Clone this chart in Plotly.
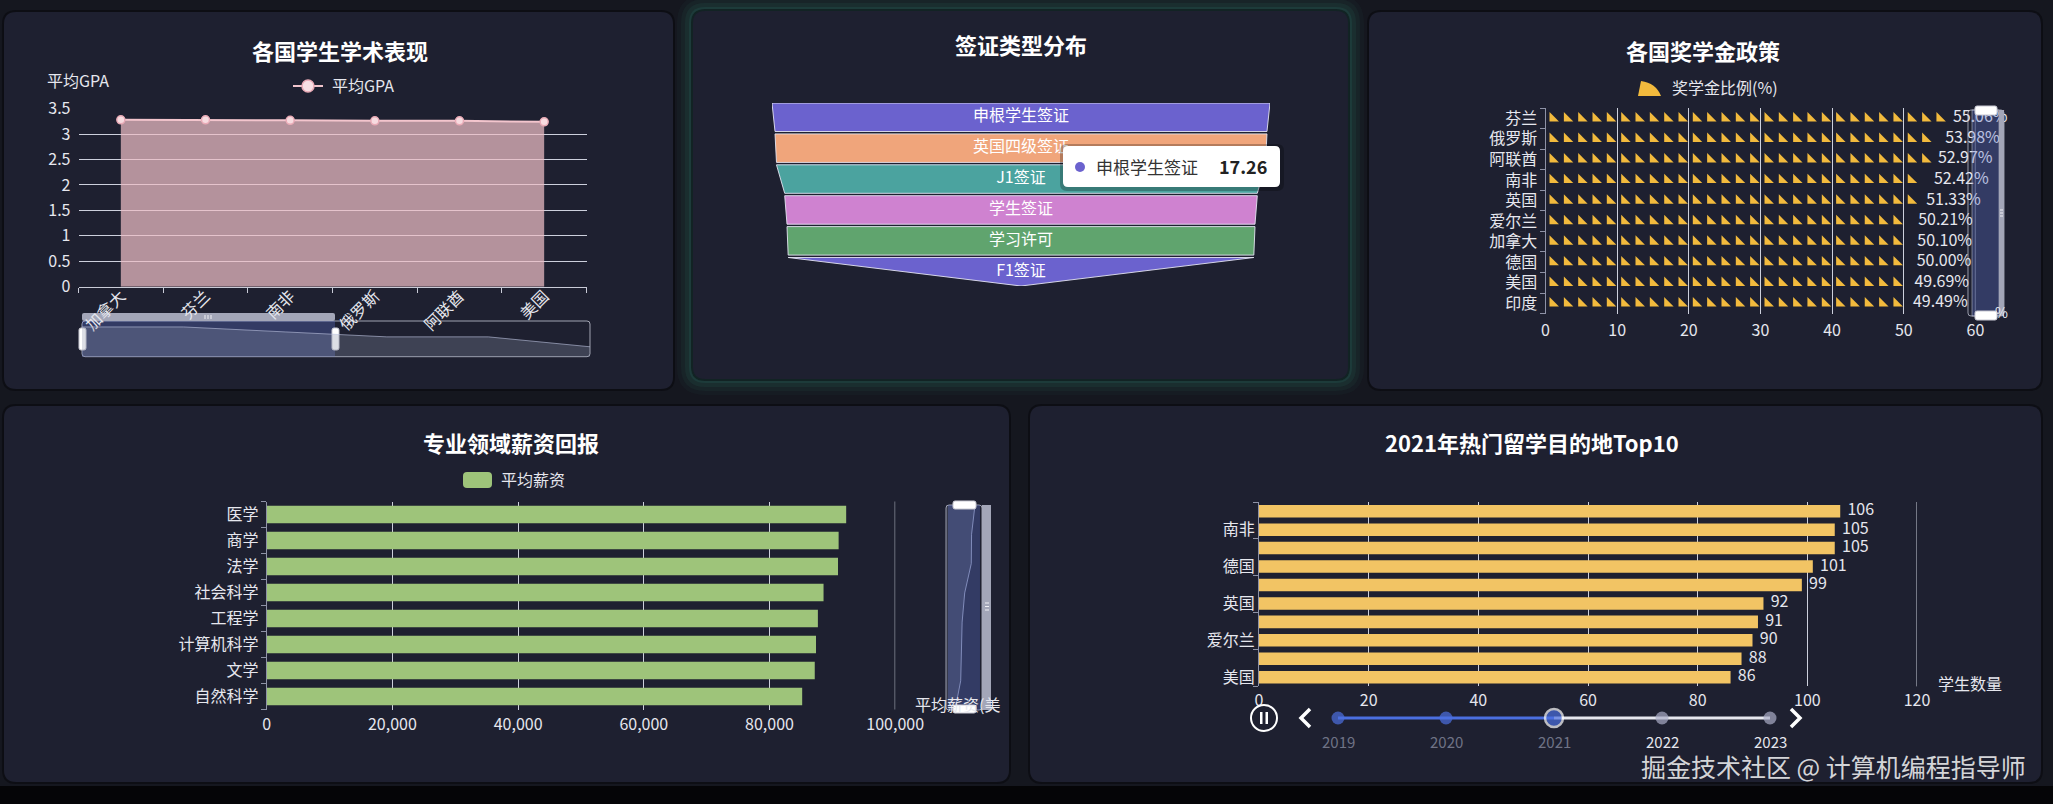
import plotly.graph_objects as go

W, H = 2053, 804
FONT = "Noto Sans CJK SC, Noto Sans, sans-serif"
TXT = "#e6e7ee"
GRID = "#cdd0dc"
AXL = "#8e92a6"

# ---------------- data ----------------
gpa_countries = ["加拿大", "芬兰", "南非", "俄罗斯", "阿联酋", "美国"]
gpa_values = [3.28, 3.28, 3.27, 3.26, 3.26, 3.24]

visa_types = ["申根学生签证", "英国四级签证", "J1签证", "学生签证", "学习许可", "F1签证"]
visa_values = [17.26, 17.05, 16.95, 16.38, 16.22, 16.14]

sch_countries = ["芬兰", "俄罗斯", "阿联酋", "南非", "英国", "爱尔兰", "加拿大", "德国", "美国", "印度"]
sch_values = [55.06, 53.98, 52.97, 52.42, 51.33, 50.21, 50.10, 50.00, 49.69, 49.49]

majors = ["医学", "商学", "法学", "社会科学", "工程学", "计算机科学", "文学", "自然科学"]
salaries = [92200, 91000, 90900, 88600, 87700, 87400, 87200, 85200]

dest_labels = ["", "南非", "", "德国", "", "英国", "", "爱尔兰", "", "美国"]
dest_counts = [106, 105, 105, 101, 99, 92, 91, 90, 88, 86]

years = [2019, 2020, 2021, 2022, 2023]
current_year = 2021

# ---------------- helpers ----------------
def X(p):
    return p / W


def Y(p):
    return 1 - p / H


def dx(a, b):
    return [a / W, b / W]


def dy(top, bottom):
    return [1 - bottom / H, 1 - top / H]


def rr(x0, y0, x1, y1, r):
    def P(x, y):
        return f"{X(x):.6f},{Y(y):.6f}"
    return (f"M{P(x0 + r, y0)} L{P(x1 - r, y0)} Q{P(x1, y0)} {P(x1, y0 + r)} "
            f"L{P(x1, y1 - r)} Q{P(x1, y1)} {P(x1 - r, y1)} L{P(x0 + r, y1)} "
            f"Q{P(x0, y1)} {P(x0, y1 - r)} L{P(x0, y0 + r)} Q{P(x0, y0)} {P(x0 + r, y0)} Z")


shapes = []
annotations = []


def box(x0, y0, x1, y1, r=0, fill="rgba(0,0,0,0)", line="rgba(0,0,0,0)", lw=0, layer="above"):
    shapes.append(dict(type="path", xref="paper", yref="paper", path=rr(x0, y0, x1, y1, r),
                       fillcolor=fill, line=dict(color=line, width=lw), layer=layer))


def seg(x0, y0, x1, y1, color, w=1, layer="above"):
    shapes.append(dict(type="line", xref="paper", yref="paper", x0=X(x0), y0=Y(y0), x1=X(x1), y1=Y(y1),
                       line=dict(color=color, width=w), layer=layer))


def poly(pts, color, w=2, fill="rgba(0,0,0,0)", close=False):
    d = "M" + " L".join(f"{X(a):.6f},{Y(b):.6f}" for a, b in pts) + (" Z" if close else "")
    shapes.append(dict(type="path", xref="paper", yref="paper", path=d, fillcolor=fill,
                       line=dict(color=color, width=w), layer="above"))


def circ(cx, cy, r, fill="rgba(0,0,0,0)", line="rgba(0,0,0,0)", lw=0, layer="above"):
    shapes.append(dict(type="circle", xref="paper", yref="paper", x0=X(cx - r), x1=X(cx + r),
                       y0=Y(cy + r), y1=Y(cy - r), fillcolor=fill, line=dict(color=line, width=lw),
                       layer=layer))


def text(s, x, y, size=16, color=TXT, xanchor="center", bold=False):
    annotations.append(dict(text=f"<b>{s}</b>" if bold else s, x=X(x), y=Y(y), xref="paper", yref="paper",
                            showarrow=False, xanchor=xanchor, yanchor="middle",
                            font=dict(family=FONT, size=size, color=color)))


def end_grid(xref, yref, xv):
    shapes.append(dict(type="line", xref=xref, yref=yref + " domain", x0=xv, x1=xv, y0=0, y1=1,
                       line=dict(color=GRID, width=1), layer="below"))


# ---------------- background & panels ----------------
PANEL = "#1e2030"
box(0, 786, W, H, fill="#050507", layer="below")
P1 = (4, 12, 673, 389)
P2 = (693, 11, 1348, 379)
P3 = (1369, 12, 2041, 389)
P4 = (4, 406, 1009, 782)
P5 = (1030, 406, 2041, 782)
for pad, a in [(16, 0.05), (12, 0.07), (8, 0.1), (4, 0.15), (2, 0.22)]:
    box(P2[0] - pad, P2[1] - pad, P2[2] + pad, P2[3] + pad, r=12 + pad, fill=f"rgba(50,135,118,{a})",
        layer="below")
for p in (P1, P2, P3, P4, P5):
    box(p[0] - 2, p[1] - 2, p[2] + 2, p[3] + 2, r=14, fill="rgba(8,9,14,0.6)", layer="below")
    box(*p, r=12, fill=PANEL, layer="below")

fig = go.Figure()

# ---------------- chart 1: GPA area ----------------
fig.add_trace(go.Scatter(x=gpa_countries, y=gpa_values, mode="lines+markers", fill="tozeroy",
                         fillcolor="rgba(238,190,198,0.72)", line=dict(color="#f3c5cd", width=2),
                         marker=dict(size=8, color="#f7dbe0", line=dict(color="#e9aab6", width=1.5)),
                         xaxis="x", yaxis="y", hoverinfo="skip"))
# slider shadow
fig.add_trace(go.Scatter(x=gpa_countries, y=gpa_values, mode="lines", fill="tozeroy",
                         fillcolor="rgba(140,145,168,0.30)", line=dict(color="rgba(190,196,225,0.6)", width=1),
                         xaxis="x2", yaxis="y2", hoverinfo="skip"))
text("各国学生学术表现", 340, 50, size=22, color="white", bold=True)
text("平均GPA", 78, 80, size=16)
seg(293, 86, 323, 86, "#f0c4cc", 2)
circ(308, 86, 6, fill="#f8dfe4", line="#e9aab6", lw=1.5)
text("平均GPA", 330, 85, size=16, xanchor="left")
# slider widgets (below the axis labels, as in the reference)
box(82, 321, 590, 356.7, r=3, line="rgba(205,208,222,0.75)", lw=1, layer="below")
box(82, 321, 335, 356.7, fill="rgba(95,115,205,0.33)", layer="below")
box(82, 313, 335, 321, r=2, fill="#a3a6b8", layer="below")
for gx in (205, 208, 211):
    seg(gx, 315, gx, 319, "#f0f0f5", 1, layer="below")
box(79, 328, 86, 350, r=2, fill="white", line="#c8c8d2", lw=1, layer="below")
box(332, 328, 339, 350, r=2, fill="white", line="#c8c8d2", lw=1, layer="below")

# ---------------- chart 2: funnel ----------------
funnel_colors = ["#6B62CE", "#F0A57B", "#4BA39F", "#CF82D0", "#60A46E", "#6B62CE"]
seg_h, gap = 28.5, 2.4
n = len(visa_values)
centers = []
for i, v in enumerate(visa_values):
    top = v / 2
    bot = visa_values[i + 1] / 2 if i + 1 < n else 0
    yt = i * (seg_h + gap)
    yb = yt + seg_h
    centers.append((yt + yb) / 2)
    fig.add_trace(go.Scatter(x=[-top, top, bot, -bot, -top], y=[yt, yt, yb, yb, yt], mode="lines",
                             fill="toself", fillcolor=funnel_colors[i],
                             line=dict(color="rgba(228,228,242,0.9)", width=1),
                             xaxis="x3", yaxis="y3", hoverinfo="skip"))
fig.add_trace(go.Scatter(x=[0] * n, y=centers, text=visa_types, mode="text",
                         textfont=dict(family=FONT, size=16, color="white"),
                         xaxis="x3", yaxis="y3", hoverinfo="skip"))
text("签证类型分布", 1021, 44, size=22, color="white", bold=True)
# tooltip
box(1060, 144, 1284, 191, r=7, fill="rgba(0,0,0,0.25)")
box(1063, 146, 1280, 187, r=5, fill="white")
circ(1080, 167, 5, fill=funnel_colors[0])
text(visa_types[0], 1094, 166, size=17, color="#333333", xanchor="left")
text(f"{visa_values[0]:.2f}", 1269, 166, size=18, color="#222222", xanchor="right", bold=True)

# ---------------- chart 3: scholarship pictorial ----------------
sx, sy = [], []
for c, v in zip(sch_countries, sch_values):
    k = 0
    while 1 + 2 * k <= v + 0.5:
        sx.append(1 + 2 * k)
        sy.append(c)
        k += 1
fig.add_trace(go.Scatter(x=sx, y=sy, mode="markers",
                         marker=dict(symbol="triangle-sw", size=10.5, color="#F2BA3D", line=dict(width=0)),
                         xaxis="x4", yaxis="y4", hoverinfo="skip"))
fig.add_trace(go.Scatter(x=sch_values, y=sch_countries, mode="markers+text",
                         text=[f"{v:.2f}%" for v in sch_values], textposition="middle right",
                         marker=dict(size=19, color="rgba(0,0,0,0)"),
                         textfont=dict(family=FONT, size=16, color=TXT), cliponaxis=False,
                         xaxis="x4", yaxis="y4", hoverinfo="skip"))
end_grid("x4", "y4", 60)
text("各国奖学金政策", 1703, 50, size=22, color="white", bold=True)
shapes.append(dict(type="path", xref="paper", yref="paper",
                   path=f"M{X(1638):.6f},{Y(96):.6f} L{X(1641):.6f},{Y(81):.6f} "
                        f"Q{X(1656):.6f},{Y(83):.6f} {X(1661):.6f},{Y(96):.6f} Z",
                   fillcolor="#F2BA3D", line=dict(width=0), layer="above"))
text("奖学金比例(%)", 1670, 87, size=16, xanchor="left")
# vertical slider
box(1968, 110, 2004, 316, r=3, line="rgba(205,208,222,0.7)", lw=1)
box(1972, 110, 1999, 316, fill="rgba(95,115,205,0.33)", line="rgba(205,208,222,0.5)", lw=1)
box(1999, 110, 2004, 316, fill="#a3a6b8")
for gy in (210, 213, 216):
    seg(2000, gy, 2003, gy, "#f0f0f5", 1)
box(1975, 106, 1997, 115, r=2, fill="white", line="#c8c8d2", lw=1)
box(1975, 311, 1997, 320, r=2, fill="white", line="#c8c8d2", lw=1)
text("%", 2001, 312, size=14, color=TXT)

# ---------------- chart 4: salary bars ----------------
fig.add_trace(go.Bar(x=salaries, y=majors, orientation="h", width=0.68,
                     marker=dict(color="#9EC47A", line=dict(width=0)),
                     xaxis="x5", yaxis="y5", hoverinfo="skip"))
fig.add_trace(go.Scatter(x=salaries, y=majors, mode="lines", fill="tozerox",
                         fillcolor="rgba(140,145,168,0.22)", line=dict(color="rgba(190,196,225,0.7)", width=1),
                         xaxis="x7", yaxis="y7", hoverinfo="skip"))
end_grid("x5", "y5", 100000)
text("专业领域薪资回报", 511, 442, size=22, color="white", bold=True)
box(463, 472, 492, 488, r=4, fill="#9EC47A")
text("平均薪资", 499, 479, size=16, xanchor="left")
text("平均薪资(美", 913, 704, size=16, xanchor="left")
box(946, 505, 982, 710, r=3, line="rgba(205,208,222,0.7)", lw=1)
box(948, 505, 980, 710, fill="rgba(95,115,205,0.33)")
box(982, 505, 991, 710, fill="#a3a6b8")
for gy in (603, 606.5, 610):
    seg(985, gy, 989, gy, "#f0f0f5", 1)
box(953, 501, 976, 509, r=2, fill="white", line="#c8c8d2", lw=1)
box(953, 705, 976, 713, r=2, fill="white", line="#c8c8d2", lw=1)

# ---------------- chart 5: top10 destinations ----------------
idxs = list(range(len(dest_counts)))
fig.add_trace(go.Bar(x=dest_counts, y=idxs, orientation="h", width=0.68,
                     marker=dict(color="#F2C464", line=dict(width=0)),
                     xaxis="x6", yaxis="y6", hoverinfo="skip"))
fig.add_trace(go.Scatter(x=dest_counts, y=idxs, mode="markers+text", text=[str(v) for v in dest_counts],
                         textposition="middle right", marker=dict(size=10, color="rgba(0,0,0,0)"),
                         textfont=dict(family=FONT, size=16, color=TXT), cliponaxis=False,
                         xaxis="x6", yaxis="y6", hoverinfo="skip"))
end_grid("x6", "y6", 120)
text(f"{current_year}年热门留学目的地Top10", 1532, 442, size=22, color="white", bold=True)
text("学生数量", 1936, 683, size=16, xanchor="left")

# timeline
ci = years.index(current_year)
fig.add_trace(go.Scatter(x=years[:ci + 1], y=[0] * (ci + 1), mode="lines", line=dict(color="#4B6FE0", width=3),
                         xaxis="x8", yaxis="y8", cliponaxis=False, hoverinfo="skip"))
fig.add_trace(go.Scatter(x=years[ci:], y=[0] * (len(years) - ci), mode="lines",
                         line=dict(color="#e6e7ee", width=3),
                         xaxis="x8", yaxis="y8", cliponaxis=False, hoverinfo="skip"))
fig.add_trace(go.Scatter(x=years, y=[0] * len(years), mode="markers",
                         marker=dict(size=[18 if yv == current_year else 13 for yv in years],
                                     color=["#4B6FE0" if yv <= current_year else "#A9ADC6" for yv in years],
                                     line=dict(color=["white" if yv == current_year else "rgba(0,0,0,0)"
                                                      for yv in years],
                                               width=[2.5 if yv == current_year else 0 for yv in years])),
                         xaxis="x8", yaxis="y8", cliponaxis=False, hoverinfo="skip"))
for yv in years:
    annotations.append(dict(text=str(yv), x=yv, y=Y(741), xref="x8", yref="paper", showarrow=False,
                            xanchor="center", yanchor="middle",
                            font=dict(family=FONT, size=15,
                                      color="#6f7386" if yv <= current_year else "#e6e7ee")))
circ(1264, 718, 13, line="white", lw=2)
box(1260, 712, 1262.5, 724, fill="white")
box(1265.5, 712, 1268, 724, fill="white")
poly([(1310, 709), (1301, 718), (1310, 727)], "white", 3.5)
poly([(1791, 709), (1800, 718), (1791, 727)], "white", 3.5)

text("掘金技术社区 @ 计算机编程指导师", 2028, 766, size=25, color="rgba(255,255,255,0.82)", xanchor="right")

# ---------------- layout ----------------
tf = dict(family=FONT, size=16, color=TXT)


def hidden(domain, rng, anchor, **kw):
    d = dict(domain=domain, range=rng, visible=False, fixedrange=True, anchor=anchor, automargin=False)
    d.update(kw)
    return d


def vis(**kw):
    d = dict(automargin=False, fixedrange=True, zeroline=False, tickfont=tf)
    d.update(kw)
    return d


fig.update_layout(
    template="none",
    width=W, height=H, margin=dict(l=0, r=0, t=0, b=0, pad=0, autoexpand=False),
    paper_bgcolor="#15171f", plot_bgcolor="rgba(0,0,0,0)", showlegend=False,
    font=dict(family=FONT, color=TXT, size=16), hovermode=False,
    xaxis=vis(domain=dx(78.5, 586.5), anchor="y", type="category", range=[-0.5, len(gpa_countries) - 0.5],
              tickson="boundaries", ticks="outside", ticklen=5, tickcolor="#c9cbd7", showline=True,
              linecolor="#c9cbd7", showgrid=False, tickangle=-45, ticklabelstandoff=-7),
    yaxis=vis(domain=dy(108.6, 286.7), anchor="x", range=[0, 3.5], dtick=0.5, showgrid=True, gridcolor=GRID,
              showline=False, ticks="", ticklabelstandoff=7),
    xaxis2=hidden(dx(82, 590), [0, len(gpa_countries) - 1], "y2", type="category"),
    yaxis2=hidden(dy(321, 356.7), [3.22, 3.292], "x2"),
    xaxis3=hidden(dx(772, 1270), [-max(visa_values) / 2, max(visa_values) / 2], "y3"),
    yaxis3=hidden(dy(103, 286), [6 * seg_h + 5 * gap, 0], "x3"),
    xaxis4=vis(domain=dx(1545.5, 1975.4), anchor="y4", range=[0, 60], dtick=10, showgrid=True, gridcolor=GRID,
               showline=False, ticks="", ticklabelstandoff=5),
    yaxis4=vis(domain=dy(108, 313.6), anchor="x4", type="category", categoryorder="array",
               categoryarray=sch_countries, range=[len(sch_countries) - 0.5, -0.5], tickmode="array",
               tickvals=sch_countries, tickson="boundaries", ticks="outside", ticklen=5, tickcolor=AXL,
               showline=True, linecolor=AXL, showgrid=False, ticklabelstandoff=4),
    xaxis5=vis(domain=dx(266.7, 895.2), anchor="y5", range=[0, 100000], dtick=20000, tickformat=",d",
               showgrid=True, gridcolor=GRID, showline=False, ticks="", ticklabelstandoff=3),
    yaxis5=vis(domain=dy(501.5, 709.5), anchor="x5", type="category", categoryorder="array",
               categoryarray=majors, range=[len(majors) - 0.5, -0.5], tickmode="array", tickvals=majors,
               tickson="boundaries", ticks="outside", ticklen=5, tickcolor=AXL, showline=True, linecolor=AXL,
               showgrid=False, ticklabelstandoff=4),
    xaxis6=vis(domain=dx(1259, 1917), anchor="y6", range=[0, 120], dtick=20, showgrid=True, gridcolor=GRID,
               showline=False, ticks="", ticklabelstandoff=3),
    yaxis6=vis(domain=dy(502, 686.4), anchor="x6", range=[len(dest_counts) - 0.5, -0.5],
               tickmode="array", tickvals=[i for i, l in enumerate(dest_labels) if l],
               ticktext=[l for l in dest_labels if l], ticks="", showline=True, linecolor=AXL, showgrid=False,
               minor=dict(tickmode="array", tickvals=[i - 0.5 for i in range(0, len(dest_counts) + 1, 2)],
                          ticks="outside", ticklen=5, tickcolor=AXL, showgrid=False)),
    xaxis7=hidden(dx(946, 982), [82050, 94650], "y7"),
    yaxis7=hidden(dy(505, 710), [len(majors) - 1, 0], "x7", type="category", categoryorder="array",
                  categoryarray=majors),
    xaxis8=hidden(dx(1338, 1770), [years[0], years[-1]], "y8"),
    yaxis8=hidden(dy(708, 728), [-1, 1], "x8"),
    shapes=shapes,
    annotations=annotations,
)

fig.write_html("out.html")
